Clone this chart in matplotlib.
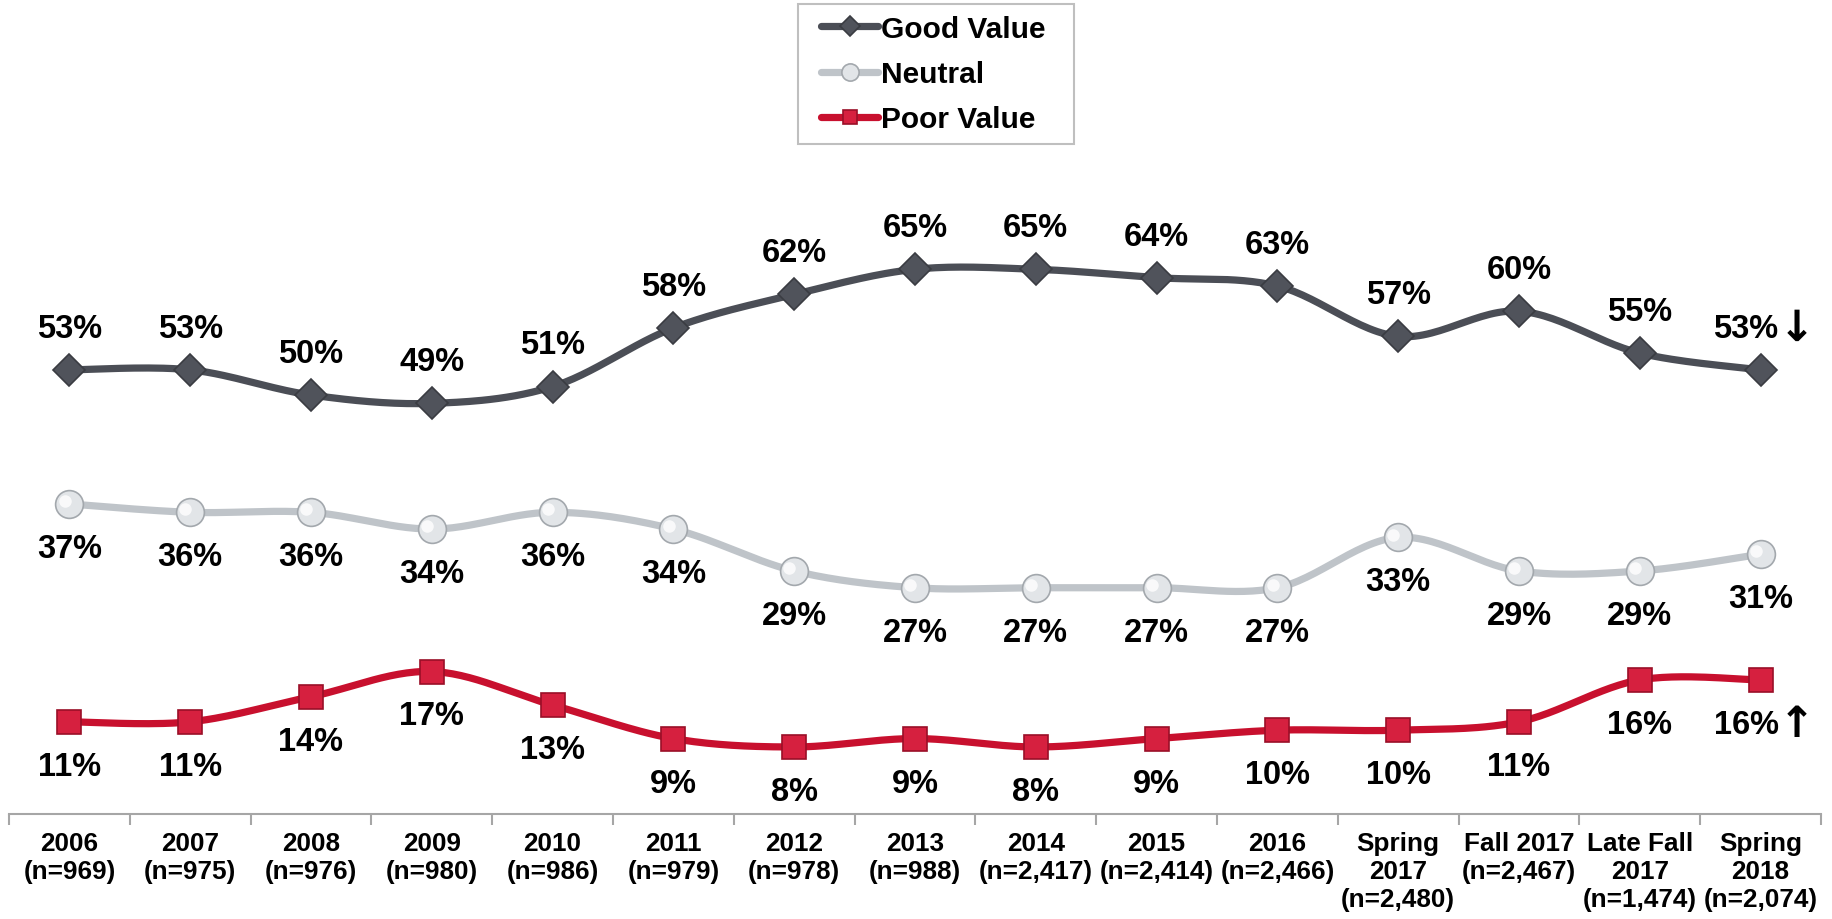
import numpy as np
import matplotlib
matplotlib.use("Agg")
import matplotlib.pyplot as plt
from matplotlib.lines import Line2D
from matplotlib.patches import Rectangle

plt.rcParams['font.family'] = ['Liberation Sans', 'DejaVu Sans']

categories = ["2006\n(n=969)", "2007\n(n=975)", "2008\n(n=976)", "2009\n(n=980)",
              "2010\n(n=986)", "2011\n(n=979)", "2012\n(n=978)", "2013\n(n=988)",
              "2014\n(n=2,417)", "2015\n(n=2,414)", "2016\n(n=2,466)",
              "Spring\n2017\n(n=2,480)", "Fall 2017\n(n=2,467)",
              "Late Fall\n2017\n(n=1,474)", "Spring\n2018\n(n=2,074)"]
good = [53, 53, 50, 49, 51, 58, 62, 65, 65, 64, 63, 57, 60, 55, 53]
neutral = [37, 36, 36, 34, 36, 34, 29, 27, 27, 27, 27, 33, 29, 29, 31]
poor = [11, 11, 14, 17, 13, 9, 8, 9, 8, 9, 10, 10, 11, 16, 16]
good_suffix = [""] * 14 + ["\u2193"]
neutral_suffix = [""] * 15
poor_suffix = [""] * 14 + ["\u2191"]


def smooth(x, y, n=30):
    x = np.asarray(x, float)
    y = np.asarray(y, float)
    P = np.column_stack([x, y])
    out = []
    m = len(P)
    t = np.linspace(0, 1, n)[:, None]
    for i in range(m - 1):
        p0 = P[i]
        p3 = P[i + 1]
        pm = P[i - 1] if i > 0 else P[i]
        pp = P[i + 2] if i + 2 < m else P[i + 1]
        c1 = p0 + (p3 - pm) / 6.0
        c2 = p3 - (pp - p0) / 6.0
        seg = ((1 - t) ** 3) * p0 + 3 * ((1 - t) ** 2) * t * c1 + 3 * (1 - t) * t ** 2 * c2 + t ** 3 * p3
        out.append(seg if i == 0 else seg[1:])
    S = np.vstack(out)
    return S[:, 0], S[:, 1]


W, H = 1833, 920
fig = plt.figure(figsize=(W / 100, H / 100), dpi=100)
ax = fig.add_axes([9 / W, 1 - 815 / H, (1821 - 9) / W, 815 / H])
ax.set_xlim(-0.5, len(categories) - 0.5)
ax.set_ylim(0, 815 / 8.38)

x = np.arange(len(categories))

series = [
    ("Good Value", good, good_suffix, "#4b4e56", dict(marker="D", ms=16, mfc="#50535b", mec="#3a3c42"), 30),
    ("Neutral", neutral, neutral_suffix, "#bfc4c9", dict(marker="o", ms=20, mfc="#e2e5e8", mec="#a3a8ad"), -32),
    ("Poor Value", poor, poor_suffix, "#c8102e", dict(marker="s", ms=17, mfc="#d6203f", mec="#9a0f27"), -32),
]

handles = []
for name, vals, suf, col, mk, off in series:
    sx, sy = smooth(x, vals)
    ax.plot(sx, sy, color=col, lw=5.2, solid_capstyle="round", zorder=2)
    ax.plot(x, vals, ls="none", mew=1.2, zorder=3, **mk)
    if mk["marker"] == "o":
        ax.plot(x - 0.04, np.asarray(vals) + 0.35, ls="none", marker="o", ms=9,
                mfc="#ffffff", mec="none", alpha=0.8, zorder=4)
    for xi, v, s in zip(x, vals, suf):
        if s:
            ax.annotate(f"{v}%", (xi, v), xytext=(13, off), textcoords="offset points",
                        ha="right", va="center", fontsize=23.5, fontweight="bold", color="#000000")
            ax.annotate(s, (xi, v), xytext=(13, off), textcoords="offset points",
                        ha="left", va="center", fontsize=31, fontweight="bold",
                        family="DejaVu Sans", color="#000000")
        else:
            ax.annotate(f"{v}%", (xi, v), xytext=(0, off), textcoords="offset points",
                        ha="center", va="center", fontsize=23.5, fontweight="bold", color="#000000")
    handles.append(Line2D([0], [0], color=col, lw=5.2, solid_capstyle="round", mew=1.2, **mk))

for sp in ["top", "left", "right"]:
    ax.spines[sp].set_visible(False)
ax.spines["bottom"].set_color("#a6a6a6")
ax.spines["bottom"].set_linewidth(1.5)
ax.set_yticks([])
ax.set_xticks(x)
ax.set_xticklabels(categories, fontsize=18.8, fontweight="bold", linespacing=1.22)
ax.tick_params(axis="x", which="major", length=0, pad=12)
ax.set_xticks(np.arange(-0.5, len(categories), 1.0), minor=True)
ax.tick_params(axis="x", which="minor", length=8, width=1.5, color="#a6a6a6", direction="out")

# legend frame and content
fig.patches.append(Rectangle((798 / W, 1 - 145 / H), 276 / W, 140 / H, transform=fig.transFigure,
                             facecolor="white", edgecolor="#bfbfbf", linewidth=1.5, zorder=0))
leg = fig.legend(handles, [s[0] for s in series], loc="center",
                 bbox_to_anchor=(933.5 / W, 1 - 75 / H), fontsize=21.5, markerscale=0.62,
                 handlelength=1.9, handletextpad=0.1, labelspacing=0.58,
                 frameon=False, borderpad=0.0, borderaxespad=0)
for t in leg.get_texts():
    t.set_fontweight("bold")

fig.savefig("out.png", dpi=100)
